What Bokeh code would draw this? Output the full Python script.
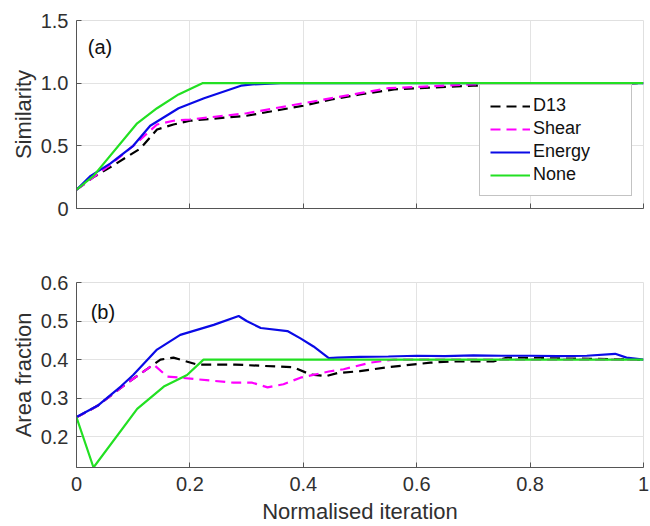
from bokeh.plotting import figure
from bokeh.layouts import column
from bokeh.models import FixedTicker, Range1d, Legend, LegendItem
from bokeh.core.properties import value
from bokeh.embed import file_html
from bokeh.resources import INLINE

# ---------------- data: (a) Similarity ----------------
sim_d13_x = [0, 0.03, 0.06, 0.113, 0.142, 0.171, 0.2, 0.3, 0.4, 0.45, 0.5, 0.56, 0.6, 0.7, 0.8, 1.0]
sim_d13_y = [0.15, 0.25, 0.33, 0.48, 0.63, 0.67, 0.70, 0.74, 0.82, 0.87, 0.91, 0.95, 0.96, 0.98, 0.99, 1.0]
sim_shear_x = [0, 0.03, 0.06, 0.1, 0.142, 0.171, 0.2, 0.3, 0.4, 0.45, 0.5, 0.55, 0.6, 0.7, 0.8, 1.0]
sim_shear_y = [0.15, 0.25, 0.35, 0.50, 0.67, 0.70, 0.71, 0.76, 0.84, 0.88, 0.92, 0.96, 0.97, 0.99, 1.0, 1.0]
sim_energy_x = [0, 0.025, 0.06, 0.1, 0.13, 0.18, 0.225, 0.29, 0.31, 0.36, 1.0]
sim_energy_y = [0.15, 0.26, 0.36, 0.50, 0.66, 0.80, 0.88, 0.98, 0.99, 1.0, 1.0]
sim_none_x = [0, 0.03, 0.107, 0.142, 0.18, 0.222, 1.0]
sim_none_y = [0.15, 0.26, 0.68, 0.80, 0.91, 1.0, 1.0]

# ---------------- data: (b) Area fraction ----------------
af_d13_x = [0, 0.037, 0.09, 0.148, 0.171, 0.213, 0.28, 0.383, 0.413, 0.44, 0.46, 0.5, 0.548, 0.624, 0.66, 0.735, 0.76, 1.0]
af_d13_y = [0.25, 0.28, 0.34, 0.40, 0.405, 0.387, 0.387, 0.38, 0.361, 0.357, 0.365, 0.37, 0.38, 0.392, 0.395, 0.395, 0.405, 0.40]
af_shear_x = [0, 0.037, 0.09, 0.136, 0.16, 0.183, 0.277, 0.31, 0.337, 0.365, 0.395, 0.445, 0.471, 0.518, 0.56, 1.0]
af_shear_y = [0.25, 0.28, 0.34, 0.387, 0.356, 0.353, 0.34, 0.34, 0.328, 0.336, 0.353, 0.369, 0.375, 0.392, 0.40, 0.40]
af_energy_x = [0, 0.037, 0.078, 0.10, 0.142, 0.183, 0.242, 0.286, 0.30, 0.325, 0.372, 0.395, 0.418, 0.445,
               0.46, 0.5, 0.55, 0.6, 0.65, 0.7, 0.75, 0.8, 0.85, 0.9, 0.95, 0.97, 1.0]
af_energy_y = [0.251, 0.28, 0.33, 0.36, 0.426, 0.464, 0.49, 0.513, 0.50, 0.482, 0.474, 0.455, 0.434, 0.404,
               0.405, 0.407, 0.408, 0.41, 0.409, 0.411, 0.41, 0.41, 0.409, 0.41, 0.415, 0.405, 0.40]
af_none_x = [0, 0.03, 0.107, 0.154, 0.195, 0.224, 1.0]
af_none_y = [0.25, 0.12, 0.272, 0.33, 0.36, 0.40, 0.40]

series_names = ["D13", "Shear", "Energy", "None"]
x_ticks = [0, 0.2, 0.4, 0.6, 0.8, 1.0]
x_tick_labels = ["0", "0.2", "0.4", "0.6", "0.8", "1"]
sim_ticks = [0, 0.5, 1.0, 1.5]
sim_tick_labels = ["0", "0.5", "1.0", "1.5"]
af_ticks = [0.2, 0.3, 0.4, 0.5, 0.6]
af_tick_labels = ["0.2", "0.3", "0.4", "0.5", "0.6"]

FONT = "Liberation Sans"
colors = {"D13": "#000000", "Shear": "#ff00ff", "Energy": "#0a0ae6", "None": "#22e022"}
dashes = {"D13": "10 6", "Shear": "10 6", "Energy": "solid", "None": "solid"}


def style(p, yticks, ylabels, ylabel, show_x_labels):
    p.xaxis.ticker = FixedTicker(ticks=x_ticks)
    p.yaxis.ticker = FixedTicker(ticks=yticks)
    p.xaxis.major_label_overrides = {t: (l if show_x_labels else "") for t, l in zip(x_ticks, x_tick_labels)}
    p.yaxis.major_label_overrides = dict(zip(yticks, ylabels))
    for ax in (p.xaxis[0], p.yaxis[0]):
        ax.major_tick_in = 5
        ax.major_tick_out = 0
        ax.minor_tick_line_color = None
        ax.axis_line_color = "#555555"
        ax.major_tick_line_color = "#555555"
        ax.major_label_text_font = FONT
        ax.major_label_text_font_size = "20px"
        ax.major_label_text_color = "#303030"
        ax.axis_label_text_font = FONT
        ax.axis_label_text_font_size = "22px"
        ax.axis_label_text_font_style = "normal"
        ax.axis_label_text_color = "#303030"
    p.yaxis.axis_label = ylabel
    p.yaxis.major_label_standoff = 8
    p.yaxis.axis_label_standoff = 2
    p.xaxis.major_label_standoff = 9
    p.xaxis.axis_label_standoff = 5
    p.grid.grid_line_color = "#e3e3e3"
    p.outline_line_color = "#e0e0e0"
    p.background_fill_color = "white"
    p.border_fill_color = "white"


# ---------------- top panel ----------------
p1 = figure(width=650, height=250, output_backend="svg", toolbar_location=None,
            x_range=Range1d(0, 1), y_range=Range1d(0, 1.5),
            min_border_left=76, min_border_right=7, min_border_top=20, min_border_bottom=42)
style(p1, sim_ticks, sim_tick_labels, "Similarity", False)
p1.xaxis.major_label_text_font_size = "1px"

r_sim = {}
for name, xs, ys in [("D13", sim_d13_x, sim_d13_y), ("Shear", sim_shear_x, sim_shear_y),
                     ("Energy", sim_energy_x, sim_energy_y), ("None", sim_none_x, sim_none_y)]:
    r_sim[name] = p1.line(xs, ys, line_color=colors[name], line_width=2.2, line_dash=dashes[name])

p1.text(x=[0.02], y=[1.29], text=["(a)"], text_font=value(FONT), text_font_size="20px",
        text_baseline="middle", text_align="left", text_color="#111111")

legend = Legend(items=[LegendItem(label=n, renderers=[r_sim[n]]) for n in series_names],
                location=(403, 12), padding=10, spacing=2, margin=0,
                glyph_width=40, glyph_height=18, label_height=18, label_width=88, label_standoff=3,
                label_text_font=FONT, label_text_font_size="18px", label_text_color="#111111",
                label_text_baseline="middle",
                border_line_color="#888888", border_line_width=1, background_fill_alpha=1.0)
p1.add_layout(legend, "center")

# ---------------- bottom panel ----------------
p2 = figure(width=650, height=276, output_backend="svg", toolbar_location=None,
            x_range=Range1d(0, 1), y_range=Range1d(0.12, 0.6),
            min_border_left=76, min_border_right=7, min_border_top=32, min_border_bottom=57)
style(p2, af_ticks, af_tick_labels, "Area fraction", True)
p2.xaxis.axis_label = "Normalised iteration"

for name, xs, ys in [("D13", af_d13_x, af_d13_y), ("Shear", af_shear_x, af_shear_y),
                     ("Energy", af_energy_x, af_energy_y), ("None", af_none_x, af_none_y)]:
    p2.line(xs, ys, line_color=colors[name], line_width=2.2, line_dash=dashes[name])

p2.text(x=[0.025], y=[0.523], text=["(b)"], text_font=value(FONT), text_font_size="20px",
        text_baseline="middle", text_align="left", text_color="#111111")

layout = column(p1, p2, spacing=0)
open("out.html", "w").write(file_html(layout, INLINE))
